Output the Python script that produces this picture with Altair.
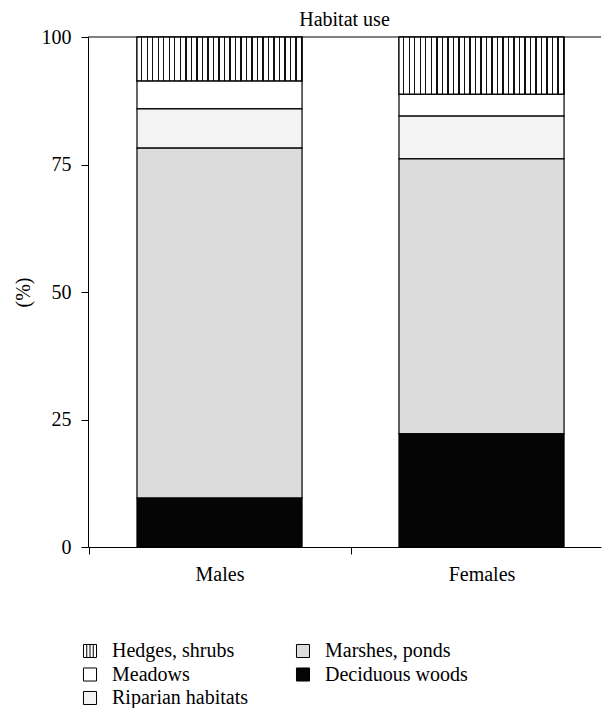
import altair as alt
import pandas as pd

sexes = ["Males", "Females"]
habitats = ["Hedges, shrubs", "Meadows", "Riparian habitats", "Marshes, ponds", "Deciduous woods"]
males = [8.6, 5.5, 7.7, 68.6, 9.6]
females = [11.2, 4.3, 8.4, 53.9, 22.2]
fills = ["#ffffff", "#ffffff", "#f3f3f3", "#dcdcdc", "#050505"]
y_ticks = [0, 25, 50, 75, 100]

rows = []
for s, vals in zip(sexes, [males, females]):
    for i, (h, v) in enumerate(zip(habitats, vals)):
        rows.append({"sex": s, "habitat": h, "i": i, "value": v})
df = pd.DataFrame(rows)
leg_df = pd.DataFrame({"habitat": habitats, "i": list(range(len(habitats)))})

FONT = "Liberation Serif"
FS = 20
W, H = 513, 510
PI, PO, AL = 0.37, 0.164, 0.57
step = W / (2 - PI + 2 * PO)
half = step / 2

# vertical stripe gradient for hedges
n = 30
stops = []
for k in range(n):
    a = k / n
    b = (k + 0.78) / n
    c = (k + 1) / n
    stops += [alt.GradientStop(offset=a, color="#ffffff"), alt.GradientStop(offset=b, color="#ffffff"),
              alt.GradientStop(offset=b, color="#111111"), alt.GradientStop(offset=c, color="#111111")]
stripes = alt.LinearGradient(gradient="linear", stops=stops, x1=0, x2=1, y1=0, y2=0)

color_scale = alt.Scale(domain=habitats, range=fills)

x_enc = alt.X("sex:N", sort=sexes, title=None,
              scale=alt.Scale(paddingInner=PI, paddingOuter=PO, align=AL),
              axis=alt.Axis(labelAngle=0, tickOffset=-half, labelOffset=half,
                            labelPadding=10, tickSize=7, domainColor="black", tickColor="black",
                            labelFontSize=FS, labelFont=FONT, labelColor="black"))
y_enc = alt.Y("y0:Q", scale=alt.Scale(domain=[0, 100], nice=False),
              axis=alt.Axis(values=y_ticks, title="(%)", tickSize=7, labelPadding=10,
                            domainColor="black", tickColor="black", labelFontSize=FS,
                            labelFont=FONT, labelColor="black", titleFont=FONT, titleFontSize=FS,
                            titleFontWeight="normal", titleColor="black", titlePadding=8))

base = alt.Chart().transform_stack(stack="value", groupby=["sex"], as_=["y0", "y1"],
                                   sort=[alt.SortField("i", order="descending")])

bars = base.mark_bar(stroke="black", strokeWidth=1.2).encode(
    x=x_enc, y=y_enc, y2="y1:Q",
    fill=alt.Fill("habitat:N", scale=color_scale, legend=None))

hedges = base.transform_filter("datum.i == 0").mark_bar(
    stroke="black", strokeWidth=1.2, fill=stripes).encode(
    x=x_enc, y=y_enc, y2="y1:Q")

top_rule = alt.Chart(pd.DataFrame({"v": [100]})).mark_rule(color="black", strokeWidth=1.2).encode(
    y=alt.Y("v:Q"))

main = alt.layer(bars, hedges, data=df) + top_rule
main = main.properties(width=W, height=H,
                       title=alt.Title("Habitat use", font=FONT, fontSize=20, fontWeight="normal",
                                       offset=-3, anchor="middle", color="black"))

leg = alt.Chart(leg_df).transform_calculate(col="floor(datum.i / 3)", row="datum.i % 3")
lx = alt.X("col:Q", scale=alt.Scale(domain=[0, 1], range=[2, 215]), axis=None)
ly = alt.Y("row:Q", scale=alt.Scale(domain=[0, 2], range=[8, 55]), axis=None)

sym = leg.mark_square(size=170, stroke="black", strokeWidth=1, opacity=1).encode(
    x=lx, y=ly, fill=alt.Fill("habitat:N", scale=color_scale, legend=None))
lines = leg.transform_filter("datum.i == 0").mark_point(
    shape="M-0.5,-1V1M0,-1V1M0.5,-1V1", size=170, filled=False, stroke="black",
    strokeWidth=1, opacity=1).encode(x=lx, y=ly)
txt = leg.mark_text(align="left", baseline="middle", dx=22, font=FONT, fontSize=FS,
                    color="black").encode(x=lx, y=ly, text="habitat:N")

legend_chart = alt.layer(sym, lines, txt).properties(width=W, height=64)

chart = alt.vconcat(main, legend_chart, spacing=57).properties(
    padding={"left": 5, "top": 2, "right": 0, "bottom": 0}
).configure_view(stroke=None).configure_axis(grid=False)

chart.save("out.html", embed_options={"renderer": "svg", "actions": False})
